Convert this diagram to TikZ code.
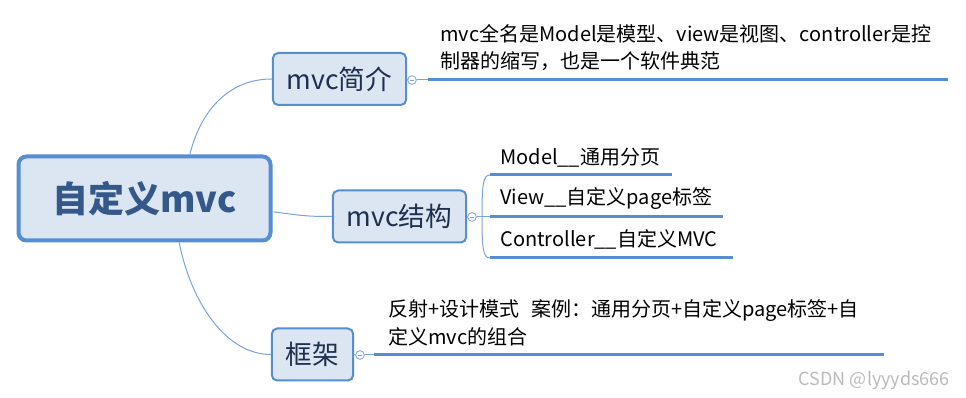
\documentclass[tikz,border=0pt]{standalone}
\usepackage{fontspec}
\setmainfont{Noto Sans CJK SC}
\definecolor{boxfill}{HTML}{DCE6F2}
\definecolor{boxline}{HTML}{558ED5}
\definecolor{roottext}{HTML}{35588A}
\definecolor{topictext}{HTML}{1F2F4F}
\definecolor{linkcol}{HTML}{7AA3D8}
\definecolor{markgray}{HTML}{BBBBBB}
\tikzset{
  rootbox/.style={draw=boxline, line width=3pt, fill=boxfill, rounded corners=6pt,
    minimum width=189pt, minimum height=63pt, text=roottext,
    font=\fontsize{27}{32}\selectfont\bfseries},
  topicbox/.style={draw=boxline, line width=1.5pt, fill=boxfill, rounded corners=4pt,
    minimum height=39pt, text=topictext, font=\fontsize{20}{24}\selectfont},
  link/.style={draw=linkcol, line width=0.75pt},
  underline/.style={draw=boxline, line width=2.25pt},
  fold/.style={circle, draw=linkcol, fill=white, line width=0.6pt, inner sep=0pt, minimum size=6.5pt},
  note/.style={anchor=base west, inner sep=0pt, font=\fontsize{15}{20}\selectfont},
}
\begin{document}
\begin{tikzpicture}[x=0.75pt,y=-0.75pt]
    \useasboundingbox (0,0) rectangle (966,398);
    % central topic and main branches
    \node[rootbox] (root) at (144.5,198.5) {自定义mvc};
    \node[topicbox, minimum width=100pt] (intro) at (339.5,79) {mvc简介};
    \node[topicbox, minimum width=100pt] (struct) at (399.5,216.5) {mvc结构};
    \node[topicbox, minimum width=61pt] (frame) at (312.5,354.5) {框架};
    \draw[link] ([xshift=34pt]root.north) .. controls +(12,-48) and +(-40,0) .. (intro.west);
    \draw[link] ([xshift=0.75pt,yshift=-10pt]root.east) .. controls +(30,4) and +(-25,0) .. (struct.west);
    \draw[link] ([xshift=26pt]root.south) .. controls +(12,60) and +(-45,0) .. (frame.west);
    % mvc简介
    \node[fold] (fold1) at (412,80) {};
    \draw[linkcol, line width=0.5pt] ([xshift=-1.6pt]fold1.center) -- ([xshift=1.6pt]fold1.center);
    \coordinate (intro-a) at (428,80);
    \coordinate (intro-b) at (948,80);
    \draw[link] (intro.east) -- (fold1.west);
    \draw[link] (fold1.east) -- (intro-a);
    \draw[underline] (intro-a) -- (intro-b);
    \node[note] (intro1) at (440,42) {mvc全名是Model是模型、view是视图、controller是控};
    \node[note] (intro2) at (440,69) {制器的缩写，也是一个软件典范};
    % mvc结构
    \node[fold] (fold2) at (472,217) {};
    \draw[linkcol, line width=0.5pt] ([xshift=-1.6pt]fold2.center) -- ([xshift=1.6pt]fold2.center);
    \coordinate (split) at (482,217);
    \coordinate (model-a) at (490,175);
    \coordinate (model-b) at (672,175);
    \coordinate (view-a) at (490,217);
    \coordinate (view-b) at (723,217);
    \coordinate (ctrl-a) at (490,258);
    \coordinate (ctrl-b) at (733,258);
    \draw[link] (struct.east) -- (fold2.west);
    \draw[link] (fold2.east) -- (view-a);
    \draw[link] (split) .. controls (482,185) and (483,175) .. (model-a);
    \draw[link] (split) .. controls (482,248) and (483,258) .. (ctrl-a);
    \draw[underline] (model-a) -- (model-b);
    \draw[underline] (view-a) -- (view-b);
    \draw[underline] (ctrl-a) -- (ctrl-b);
    \node[note] (model) at (500,165) {Model\_\_通用分页};
    \node[note] (view) at (500,205) {View\_\_自定义page标签};
    \node[note] (ctrl) at (500,247) {Controller\_\_自定义MVC};
    % 框架
    \node[fold] (fold3) at (360,355) {};
    \draw[linkcol, line width=0.5pt] ([xshift=-1.6pt]fold3.center) -- ([xshift=1.6pt]fold3.center);
    \coordinate (frame-a) at (374,355);
    \coordinate (frame-b) at (884,355);
    \draw[link] (frame.east) -- (fold3.west);
    \draw[link] (fold3.east) -- (frame-a);
    \draw[underline] (frame-a) -- (frame-b);
    \node[note] (frame1) at (388,317) {反射+设计模式\hspace{9pt}案例：通用分页+自定义page标签+自};
    \node[note] (frame2) at (388,345) {定义mvc的组合};
    \node[anchor=base east, inner sep=0pt, text=markgray, font=\fontsize{13.5}{16}\selectfont] (mark) at (950,385) {CSDN @lyyyds666};
\end{tikzpicture}
\end{document}
